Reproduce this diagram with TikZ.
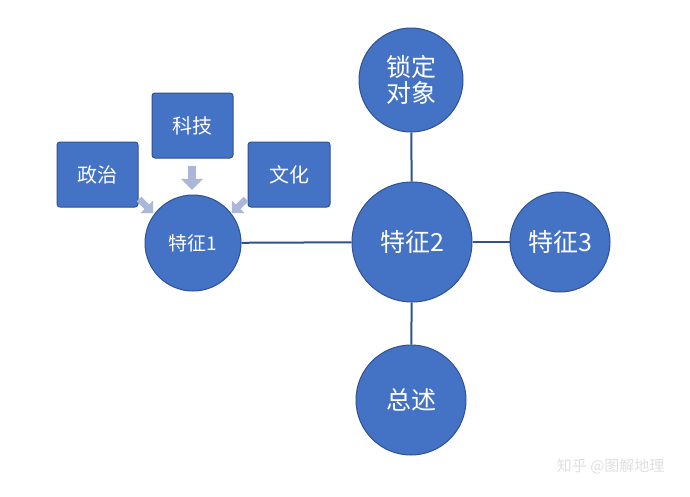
\documentclass[tikz,border=0pt]{standalone}
\usepackage{fontspec}
\setmainfont{Noto Sans CJK SC}
\usetikzlibrary{shapes.arrows}
\definecolor{bfill}{HTML}{4472C4}
\definecolor{bline}{HTML}{2F528F}
\definecolor{arr}{HTML}{AAB7D6}
\begin{document}
\begin{tikzpicture}[x=1pt,y=-1pt,
  circ/.style={circle,fill=bfill,draw=bline,line width=1pt,text=white,inner sep=0pt},
  box/.style={rounded corners=3pt,fill=bfill,draw=bline,line width=1pt,text=white,font=\fontsize{20}{24}\selectfont},
  conn/.style={draw=bline,line width=2pt},
  barr/.style={single arrow,fill=arr,draw=none,minimum height=26pt,minimum width=22pt,single arrow head extend=4pt,inner sep=2pt}]
\useasboundingbox[fill=white] (0,0) rectangle (690,496);
\node[box,minimum width=81pt,minimum height=65pt] (zz) at (97.5,174.5) {政治};
\node[box,minimum width=81pt,minimum height=65pt] (kj) at (192.5,125.5) {科技};
\node[box,minimum width=82pt,minimum height=65pt] (wh) at (289,174.5) {文化};
\node[circ,minimum size=96pt,font=\fontsize{19}{22}\selectfont] (t1) at (193,243) {特征1};
\node[circ,minimum size=120pt,font=\fontsize{25}{30}\selectfont] (t2) at (412,242) {特征2};
\node[circ,minimum size=100pt,font=\fontsize{25}{30}\selectfont] (t3) at (560,242) {特征3};
\node[circ,minimum size=104pt,font=\fontsize{25}{30}\selectfont,align=center] (sd) at (411,80) {锁定\\[-4pt]对象};
\node[circ,minimum size=110pt,font=\fontsize{25}{30}\selectfont] (zs) at (411,400) {总述};
\draw[conn] (t1) -- (t2);
\draw[conn] (t2) -- (t3);
\draw[conn] (t2) -- (sd);
\draw[conn] (t2) -- (zs);
\node[barr,rotate=-90,minimum height=24pt] (a2) at (192,176) {};
\node[barr,rotate=-45,minimum height=20pt,minimum width=18pt] (a1) at (145,205) {};
\node[barr,rotate=-135,minimum height=20pt,minimum width=18pt] (a3) at (240,205) {};
\node[text=black!12,font=\fontsize{15}{18}\selectfont,anchor=east] (wm) at (668,466) {知乎 @图解地理};
\end{tikzpicture}
\end{document}
